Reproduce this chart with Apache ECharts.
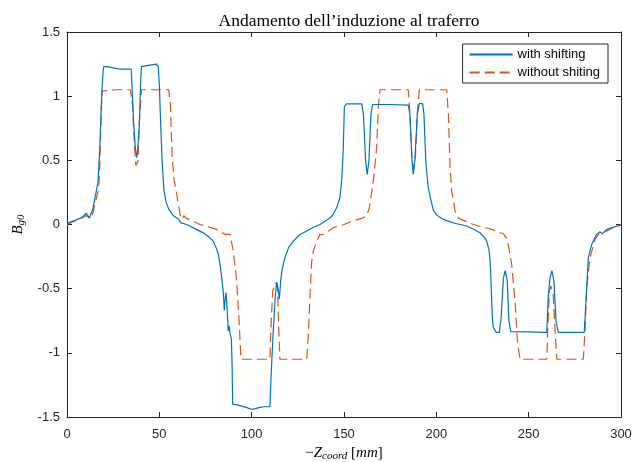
<!DOCTYPE html>
<html>
<head>
<meta charset="utf-8">
<script src="https://cdn.jsdelivr.net/npm/echarts@6/dist/echarts.min.js"></script>
<style>
  html, body { margin: 0; padding: 0; background: #fff; }
  #chart { width: 633px; height: 462px; }
</style>
</head>
<body>
<div id="chart"></div>
<script>
// Air-gap flux density along the stator coordinate
const shiftX = [0, 4, 8, 10.5, 12.1, 14, 15.3, 16.8, 17.8, 18.5, 19, 19.5, 19.9, 22, 25, 28.9, 32, 34.8,
  35.3, 36.1, 37, 37.7, 38.4, 39.2, 39.8, 40.3, 44, 48.4, 49.4, 50, 50.7, 51.5, 52.4, 53.5, 55.1, 57.5,
  60.5, 61.5, 64.8, 69, 73.8, 77, 79.2, 81, 81.9, 83, 83.8, 84.6, 85.2, 85.5, 86.1, 86.7, 87.3, 87.8,
  88.3, 89, 89.4, 89.7, 92, 94.6, 97, 100, 102, 104.5, 107, 109.9, 110.5, 111.4, 112.6, 113.5, 114.3,
  115, 115.7, 116.5, 118, 120, 122.6, 126, 129.8, 133, 137, 140, 142.4, 144.2, 146, 147.8, 148.8, 149.6,
  150.2, 151.4, 155, 159.6, 160.5, 161.7, 162.6, 163.5, 164.6, 165.5, 175, 184.8, 185.7, 186.8, 187.5,
  188.4, 189.7, 190.8, 192.6, 193.3, 194, 194.4, 195.5, 196.6, 198.4, 200.2, 203, 205.6, 210, 216.4,
  220, 223.6, 226, 227.3, 228.5, 229, 229.5, 229.9, 230.4, 230.8, 232.3, 234.1, 235, 235.4, 236.3,
  237.3, 238.4, 239.3, 240.3, 250, 259.8, 260.6, 261.5, 262.6, 263.7, 264.8, 266, 273, 280.1, 281.4,
  282.3, 284.1, 286.8, 288.6, 289.9, 292.3, 296, 300];
const shiftB = [0.01, 0.03, 0.055, 0.088, 0.05, 0.12, 0.22, 0.33, 0.6, 0.9, 1.05, 1.19, 1.23, 1.23, 1.22, 1.21, 1.21, 1.21,
  1.04, 0.79, 0.6, 0.52, 0.6, 0.79, 1.09, 1.23, 1.24, 1.25, 1.23, 1.09, 0.79, 0.5, 0.28, 0.18, 0.12, 0.07,
  0.04, 0.015, 0.0, -0.03, -0.065, -0.1, -0.13, -0.19, -0.23, -0.32, -0.42, -0.52, -0.67, -0.6, -0.53, -0.65, -0.83, -0.79,
  -0.85, -0.89, -1.09, -1.40, -1.405, -1.415, -1.425, -1.44, -1.435, -1.425, -1.42, -1.42, -1.19, -0.91, -0.6, -0.45, -0.5,
  -0.58, -0.44, -0.35, -0.26, -0.18, -0.13, -0.08, -0.05, -0.025, 0.0, 0.03, 0.05, 0.08, 0.13, 0.21, 0.35, 0.59,
  0.92, 0.94, 0.94, 0.94, 0.86, 0.5, 0.39, 0.5, 0.86, 0.935, 0.935, 0.93, 0.86, 0.5, 0.39,
  0.5, 0.86, 0.945, 0.94, 0.86, 0.6, 0.47, 0.3, 0.22, 0.11, 0.075, 0.045, 0.03, 0.01, -0.012,
  -0.035, -0.064, -0.1, -0.13, -0.2, -0.26, -0.4, -0.57, -0.74, -0.8, -0.84, -0.84, -0.74, -0.65, -0.42,
  -0.36, -0.44, -0.75, -0.835, -0.837, -0.84, -0.57, -0.42, -0.36, -0.44, -0.75, -0.84, -0.84, -0.84, -0.5,
  -0.26, -0.156, -0.077, -0.057, -0.072, -0.038, -0.02, -0.004];

const baseX = [0, 4, 8, 10.5, 12.1, 13.5, 15, 17.2, 17.8, 18.5, 19, 19.9, 27, 34.3, 35.5, 36.6, 37.3, 38.4,
  39.2, 40.3, 48, 55.1, 56, 56.9, 58, 59.6, 61.4, 62.5, 63.3, 64.4, 66, 72, 77, 81, 85.6, 88.3, 89.7,
  90.8, 91.9, 93.3, 94.2, 102, 109.9, 110.5, 111.4, 112.6, 113.9, 114.6, 115.3, 122, 129.8, 130.7, 131.6,
  132.5, 133.5, 135.2, 137, 137.9, 138.5, 139.3, 144.2, 150, 155, 160, 162.3, 163.7, 165.9, 167.7, 168.6,
  169.5, 177, 184.8, 185.7, 186.8, 187.7, 188.6, 189.7, 190.8, 198, 205.6, 206.5, 207.4, 208.3, 209.2,
  210.1, 211.9, 215, 220, 225, 230, 234.5, 235.5, 236.2, 238.4, 239.5, 240.8, 242.6, 243.9, 245.3, 252,
  259.8, 260.3, 261.2, 262.1, 263.3, 264.3, 265.2, 272, 279.6, 280.5, 281.4, 283.2, 285.9, 288, 289.5,
  292.3, 296, 300];
const baseB = [0.0, 0.025, 0.05, 0.07, 0.05, 0.06, 0.15, 0.28, 0.5, 0.85, 1.04, 1.05, 1.05, 1.05, 0.93, 0.59, 0.46, 0.49,
  0.80, 1.05, 1.05, 1.05, 0.93, 0.54, 0.35, 0.22, 0.067, 0.04, 0.07, 0.05, 0.04, 0.0, -0.02, -0.038, -0.077, -0.077, -0.18,
  -0.3, -0.44, -0.78, -1.05, -1.05, -1.05, -0.78, -0.52, -0.455, -0.465, -0.78, -1.05, -1.05, -1.05, -0.86, -0.55,
  -0.29, -0.2, -0.13, -0.077, -0.064, -0.08, -0.065, -0.025, 0.0, 0.028, 0.05, 0.067, 0.13, 0.34, 0.60, 0.92,
  1.05, 1.05, 1.05, 0.87, 0.5, 0.44, 0.5, 0.87, 1.05, 1.05, 1.05, 0.87, 0.47, 0.26, 0.2,
  0.106, 0.05, 0.03, 0.0, -0.02, -0.038, -0.064, -0.05, -0.07, -0.117, -0.2, -0.31, -0.60, -0.91, -1.05, -1.05,
  -1.05, -0.83, -0.52, -0.48, -0.55, -0.83, -1.05, -1.05, -1.05, -0.83, -0.5, -0.26, -0.117, -0.075, -0.064,
  -0.05, -0.02, 0.0];

const seriesNames = ['with shifting', 'without shiting'];
const xTicks = { min: 0, max: 300, step: 50 };
const yTicks = { min: -1.5, max: 1.5, step: 0.5 };

const pairs = (xs, ys) => xs.map((x, i) => [x, ys[i]]);

const axisColor = '#262626';
const sans = 'Liberation Sans, Arial, sans-serif';
const serif = 'Liberation Serif, Times New Roman, serif';

const chart = echarts.init(document.getElementById('chart'), null, { renderer: 'canvas' });

const baseXAxis = {
  type: 'value', min: xTicks.min, max: xTicks.max, interval: xTicks.step,
  axisLine: { show: true, onZero: false, lineStyle: { color: axisColor, width: 1 } },
  axisTick: { show: true, inside: true, length: 5, lineStyle: { color: axisColor } },
  splitLine: { show: false }
};
const baseYAxis = {
  type: 'value', min: yTicks.min, max: yTicks.max, interval: yTicks.step,
  axisLine: { show: true, onZero: false, lineStyle: { color: axisColor, width: 1 } },
  axisTick: { show: true, inside: true, length: 5, lineStyle: { color: axisColor } },
  splitLine: { show: false }
};

const subRich = {
  i: { fontFamily: serif, fontStyle: 'italic', fontSize: 15, color: '#000' },
  s: { fontFamily: serif, fontStyle: 'italic', fontSize: 11, color: '#000', verticalAlign: 'bottom', padding: [6, 0, 0, 0] }
};

chart.setOption({
  animation: false,
  backgroundColor: '#ffffff',
  title: {
    text: 'Andamento dell\u2019induzione al traferro',
    left: 344, top: 7, textAlign: 'center',
    textStyle: { fontFamily: serif, fontWeight: 'normal', fontSize: 17.5, color: '#000' }
  },
  grid: { left: 67, right: 12, top: 32, bottom: 45, containLabel: false, outerBoundsMode: 'none' },
  legend: {
    orient: 'vertical',
    right: 25, top: 44,
    padding: [4, 8, 4, 6],
    itemGap: 5,
    itemWidth: 43, itemHeight: 12,
    borderColor: axisColor, borderWidth: 1,
    backgroundColor: '#fff',
    itemStyle: { opacity: 0 },
    textStyle: { fontFamily: sans, fontSize: 13, color: '#000' },
    data: seriesNames
  },
  xAxis: [
    Object.assign({}, baseXAxis, {
      position: 'bottom',
      axisLabel: { show: true, color: axisColor, fontFamily: sans, fontSize: 13, margin: 11 },
      name: '\u2212{i|Z}{s|coord} [{i|mm}]',
      nameLocation: 'middle', nameGap: 28,
      nameTextStyle: { fontFamily: serif, fontSize: 15, color: '#000', rich: subRich }
    }),
    Object.assign({}, baseXAxis, { position: 'top', axisLabel: { show: false } })
  ],
  yAxis: [
    Object.assign({}, baseYAxis, {
      position: 'left',
      axisLabel: { show: true, color: axisColor, fontFamily: sans, fontSize: 13, margin: 7 },
      name: '{i|B}{s|g0}',
      nameLocation: 'middle', nameGap: 36,
      nameTextStyle: { fontFamily: serif, fontSize: 15, color: '#000', rich: subRich }
    }),
    Object.assign({}, baseYAxis, { position: 'right', axisLabel: { show: false } })
  ],
  series: [
    {
      name: seriesNames[0], type: 'line', xAxisIndex: 0, yAxisIndex: 0,
      data: pairs(shiftX, shiftB),
      showSymbol: false, symbol: 'none',
      lineStyle: { color: '#0072BD', width: 1.2, type: 'solid' },
      itemStyle: { color: '#0072BD' },
      z: 3
    },
    {
      name: seriesNames[1], type: 'line', xAxisIndex: 0, yAxisIndex: 0,
      data: pairs(baseX, baseB),
      showSymbol: false, symbol: 'none',
      lineStyle: { color: '#D95319', width: 1.2, type: [10, 5] },
      itemStyle: { color: '#D95319' },
      z: 2
    }
  ]
});
</script>
</body>
</html>
